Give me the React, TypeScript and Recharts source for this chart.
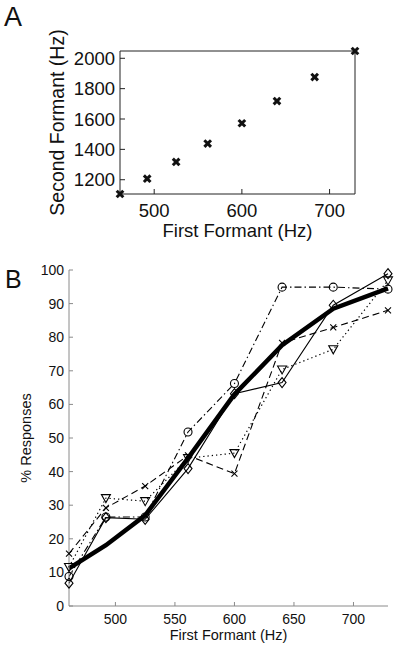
import React from 'react';
import {
  ScatterChart, Scatter, LineChart, Line, XAxis, YAxis, ReferenceLine,
} from 'recharts';

// Vowel continuum: first formant (Hz)
const firstFormant = [461, 492, 525, 561, 600, 640, 683, 729];
// Second formant (Hz) for each step (panel A)
const secondFormant = [1106, 1207, 1317, 1438, 1572, 1718, 1876, 2048];

// Panel B: % responses per listener (four listeners + mean)
const meanResp = [11.2, 18.1, 27, 44, 63, 77.6, 88.5, 94.5];
const circleResp = [8.8, 26.5, 26.5, 51.8, 66.2, 94.9, 94.9, 94.3];
const crossResp = [15.6, 29.2, 35.7, 44.8, 39.4, 78.3, 82.9, 88];
const triResp = [11.6, 32.1, 31.2, 44, 45.5, 70.4, 76.4, 96.9];
const diamondResp = [6.8, 26.3, 25.8, 40.9, 63.2, 66.5, 89.5, 98.9];

const aXDomain = [461, 729];
const aYDomain = [1106, 2048];
const aXTicks = [500, 600, 700];
const aYTicks = [1200, 1400, 1600, 1800, 2000];
const bXTicks = [500, 550, 600, 650, 700];
const bYTicks = [0, 10, 20, 30, 40, 50, 60, 70, 80, 90, 100];

const FONT = '"Liberation Sans", Arial, Helvetica, sans-serif';

const dataA = firstFormant.map((f1, i) => ({ f1, f2: secondFormant[i] }));
const dataB = firstFormant.map((f1, i) => ({
  f1,
  mean: meanResp[i],
  circle: circleResp[i],
  cross: crossResp[i],
  tri: triResp[i],
  diamond: diamondResp[i],
}));

const BoldX = (props: any) => {
  const { cx, cy } = props;
  if (cx == null || cy == null) return null;
  const s = 3.3;
  return (
    <g>
      <line x1={cx - s} y1={cy - s} x2={cx + s} y2={cy + s} stroke="#111" strokeWidth={3} />
      <line x1={cx - s} y1={cy + s} x2={cx + s} y2={cy - s} stroke="#111" strokeWidth={3} />
    </g>
  );
};

const makeDot = (kind: string) => (props: any) => {
  const { cx, cy, index } = props;
  const key = `${kind}-${index}`;
  if (cx == null || cy == null) return <g key={key} />;
  if (kind === 'circle') {
    return <circle key={key} cx={cx} cy={cy} r={4} fill="none" stroke="#000" strokeWidth={1.1} />;
  }
  if (kind === 'cross') {
    const s = 3;
    return (
      <g key={key}>
        <line x1={cx - s} y1={cy - s} x2={cx + s} y2={cy + s} stroke="#000" strokeWidth={1.1} />
        <line x1={cx - s} y1={cy + s} x2={cx + s} y2={cy - s} stroke="#000" strokeWidth={1.1} />
      </g>
    );
  }
  if (kind === 'tri') {
    return (
      <polygon
        key={key}
        points={`${cx - 4.5},${cy - 3.5} ${cx + 4.5},${cy - 3.5} ${cx},${cy + 4.5}`}
        fill="none"
        stroke="#000"
        strokeWidth={1.1}
      />
    );
  }
  if (kind === 'diamond') {
    return (
      <polygon
        key={key}
        points={`${cx},${cy - 5} ${cx + 4},${cy} ${cx},${cy + 5} ${cx - 4},${cy}`}
        fill="none"
        stroke="#000"
        strokeWidth={1.1}
      />
    );
  }
  return <g key={key} />;
};

export default function App() {
  return (
    <div style={{ position: 'absolute', left: 0, top: 0, width: 400, height: 654, background: '#fff', fontFamily: FONT }}>
      <div style={{ position: 'absolute', left: 0, top: 0 }}>
        <ScatterChart width={400} height={245} margin={{ top: 51, right: 45, left: 0, bottom: 0 }}>
          <XAxis
            type="number"
            dataKey="f1"
            domain={aXDomain}
            ticks={aXTicks}
            height={51}
            stroke="#222"
            tickSize={-5}
            tickMargin={15}
            tick={{ fontSize: 18.5, fill: '#111', fontFamily: FONT }}
            label={{ value: 'First Formant (Hz)', position: 'insideBottom', offset: 8, fontSize: 18.5, fill: '#111', fontFamily: FONT }}
          />
          <YAxis
            type="number"
            dataKey="f2"
            domain={aYDomain}
            ticks={aYTicks}
            width={120}
            stroke="#222"
            tickSize={-5}
            tickMargin={10}
            tick={{ fontSize: 18.5, fill: '#111', fontFamily: FONT }}
            label={{ value: 'Second Formant (Hz)', angle: -90, position: 'insideLeft', offset: 57, fontSize: 19.5, fill: '#111', fontFamily: FONT, style: { textAnchor: 'middle' } }}
          />
          <ReferenceLine y={aYDomain[1]} stroke="#222" strokeWidth={1} ifOverflow="visible" />
          <ReferenceLine x={aXDomain[1]} stroke="#222" strokeWidth={1} ifOverflow="visible" />
          <Scatter data={dataA} shape={BoldX} isAnimationActive={false} />
        </ScatterChart>
      </div>
      <div style={{ position: 'absolute', left: 0, top: 245 }}>
        <LineChart width={400} height={409} data={dataB} margin={{ top: 25, right: 12, left: 0, bottom: 0 }}>
          <XAxis
            type="number"
            dataKey="f1"
            domain={[461, 729]}
            ticks={bXTicks}
            height={48}
            stroke="#8a8a8a"
            tickSize={-4}
            tickMargin={12}
            tick={{ fontSize: 14, fill: '#111', fontFamily: FONT }}
            label={{ value: 'First Formant (Hz)', position: 'insideBottom', offset: 14, fontSize: 14.5, fill: '#111', fontFamily: FONT }}
          />
          <YAxis
            type="number"
            domain={[0, 100]}
            ticks={bYTicks}
            width={69}
            stroke="#8a8a8a"
            tickSize={-4}
            tickMargin={9}
            tick={{ fontSize: 14, fill: '#111', fontFamily: FONT }}
            label={{ value: '% Responses', angle: -90, position: 'insideLeft', offset: 26, fontSize: 14.5, fill: '#111', fontFamily: FONT, style: { textAnchor: 'middle' } }}
          />
          <Line type="linear" dataKey="circle" stroke="#000" strokeWidth={1.1} strokeDasharray="7 3 1.5 3" dot={makeDot('circle')} isAnimationActive={false} />
          <Line type="linear" dataKey="cross" stroke="#000" strokeWidth={1.1} strokeDasharray="7 4" dot={makeDot('cross')} isAnimationActive={false} />
          <Line type="linear" dataKey="tri" stroke="#000" strokeWidth={1.2} strokeDasharray="1.3 3" dot={makeDot('tri')} isAnimationActive={false} />
          <Line type="linear" dataKey="diamond" stroke="#000" strokeWidth={1.1} dot={makeDot('diamond')} isAnimationActive={false} />
          <Line type="linear" dataKey="mean" stroke="#000" strokeWidth={4.5} dot={false} isAnimationActive={false} />
        </LineChart>
      </div>
      <svg width={400} height={654} style={{ position: 'absolute', left: 0, top: 0, pointerEvents: 'none' }}>
        <text x={4} y={26} fontSize={27} fontFamily={FONT} fill="#111">A</text>
        <text x={5} y={288} fontSize={25} fontFamily={FONT} fill="#111">B</text>
      </svg>
    </div>
  );
}
